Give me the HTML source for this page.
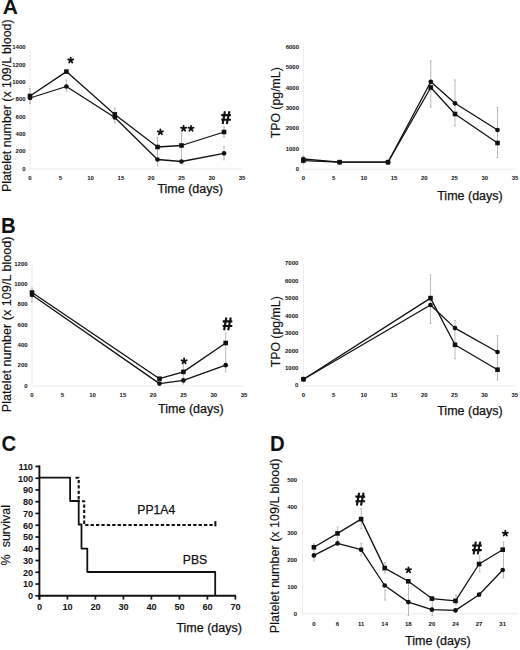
<!DOCTYPE html>
<html><head><meta charset="utf-8"><style>
html,body{margin:0;padding:0;background:#fff;width:520px;height:650px;overflow:hidden}
svg{display:block;font-family:"Liberation Sans", sans-serif}
</style></head><body>
<svg width="520" height="650" viewBox="0 0 520 650">
<rect width="520" height="650" fill="#fff"/>
<text transform="translate(2.70,14.40) scale(1.0,1)" font-size="21" font-weight="bold" fill="#111">A</text>
<text transform="translate(11.20,105.75) rotate(-90)" x="0" y="0" font-size="12.42" text-anchor="middle" fill="#111" stroke="#111" stroke-width="0.15">Platelet number (x 109/L blood)</text>
<line x1="30.00" y1="47.00" x2="30.00" y2="169.00" stroke="#ebebeb" stroke-width="1" />
<line x1="30.00" y1="169.00" x2="242.50" y2="169.00" stroke="#ebebeb" stroke-width="1" />
<text x="25.60" y="170.60" font-size="6.0" font-weight="bold" text-anchor="end" fill="#111" >0</text>
<text x="25.60" y="153.25" font-size="6.0" font-weight="bold" text-anchor="end" fill="#111" >200</text>
<text x="25.60" y="135.90" font-size="6.0" font-weight="bold" text-anchor="end" fill="#111" >400</text>
<text x="25.60" y="118.55" font-size="6.0" font-weight="bold" text-anchor="end" fill="#111" >600</text>
<text x="25.60" y="101.20" font-size="6.0" font-weight="bold" text-anchor="end" fill="#111" >800</text>
<text x="25.60" y="83.85" font-size="6.0" font-weight="bold" text-anchor="end" fill="#111" >1000</text>
<text x="25.60" y="66.50" font-size="6.0" font-weight="bold" text-anchor="end" fill="#111" >1200</text>
<text x="25.60" y="49.15" font-size="6.0" font-weight="bold" text-anchor="end" fill="#111" >1400</text>
<text x="30.00" y="180.00" font-size="6.0" font-weight="bold" text-anchor="middle" fill="#111" >0</text>
<text x="60.30" y="180.00" font-size="6.0" font-weight="bold" text-anchor="middle" fill="#111" >5</text>
<text x="90.60" y="180.00" font-size="6.0" font-weight="bold" text-anchor="middle" fill="#111" >10</text>
<text x="120.90" y="180.00" font-size="6.0" font-weight="bold" text-anchor="middle" fill="#111" >15</text>
<text x="151.20" y="180.00" font-size="6.0" font-weight="bold" text-anchor="middle" fill="#111" >20</text>
<text x="181.50" y="180.00" font-size="6.0" font-weight="bold" text-anchor="middle" fill="#111" >25</text>
<text x="211.80" y="180.00" font-size="6.0" font-weight="bold" text-anchor="middle" fill="#111" >30</text>
<text x="242.10" y="180.00" font-size="6.0" font-weight="bold" text-anchor="middle" fill="#111" >35</text>
<text x="157.40" y="193.20" font-size="12.5" font-weight="normal" text-anchor="start" fill="#111"  stroke="#111" stroke-width="0.25">Time (days)</text>
<line x1="30.00" y1="88.50" x2="30.00" y2="103.50" stroke="#bbb" stroke-width="1"/>
<line x1="29.00" y1="88.50" x2="31.00" y2="88.50" stroke="#bbb" stroke-width="1"/>
<line x1="29.00" y1="103.50" x2="31.00" y2="103.50" stroke="#bbb" stroke-width="1"/>
<line x1="66.40" y1="80.00" x2="66.40" y2="91.00" stroke="#bbb" stroke-width="1"/>
<line x1="65.40" y1="80.00" x2="67.40" y2="80.00" stroke="#bbb" stroke-width="1"/>
<line x1="65.40" y1="91.00" x2="67.40" y2="91.00" stroke="#bbb" stroke-width="1"/>
<line x1="114.80" y1="108.00" x2="114.80" y2="123.00" stroke="#bbb" stroke-width="1"/>
<line x1="113.80" y1="108.00" x2="115.80" y2="108.00" stroke="#bbb" stroke-width="1"/>
<line x1="113.80" y1="123.00" x2="115.80" y2="123.00" stroke="#bbb" stroke-width="1"/>
<line x1="157.50" y1="137.30" x2="157.50" y2="165.80" stroke="#bbb" stroke-width="1"/>
<line x1="156.50" y1="137.30" x2="158.50" y2="137.30" stroke="#bbb" stroke-width="1"/>
<line x1="156.50" y1="165.80" x2="158.50" y2="165.80" stroke="#bbb" stroke-width="1"/>
<line x1="181.50" y1="133.00" x2="181.50" y2="164.00" stroke="#bbb" stroke-width="1"/>
<line x1="180.50" y1="133.00" x2="182.50" y2="133.00" stroke="#bbb" stroke-width="1"/>
<line x1="180.50" y1="164.00" x2="182.50" y2="164.00" stroke="#bbb" stroke-width="1"/>
<line x1="224.00" y1="127.00" x2="224.00" y2="137.00" stroke="#bbb" stroke-width="1"/>
<line x1="223.00" y1="127.00" x2="225.00" y2="127.00" stroke="#bbb" stroke-width="1"/>
<line x1="223.00" y1="137.00" x2="225.00" y2="137.00" stroke="#bbb" stroke-width="1"/>
<line x1="224.00" y1="146.80" x2="224.00" y2="159.80" stroke="#bbb" stroke-width="1"/>
<line x1="223.00" y1="146.80" x2="225.00" y2="146.80" stroke="#bbb" stroke-width="1"/>
<line x1="223.00" y1="159.80" x2="225.00" y2="159.80" stroke="#bbb" stroke-width="1"/>
<polyline points="30.00,96.00 66.40,71.60 114.80,114.40 157.50,147.00 181.50,145.50 224.00,132.00" fill="none" stroke="#111" stroke-width="1.3" stroke-linejoin="round" />
<polyline points="30.00,98.00 66.40,86.50 114.80,117.50 157.50,159.50 181.50,161.50 224.00,153.30" fill="none" stroke="#111" stroke-width="1.3" stroke-linejoin="round" />
<rect x="27.70" y="93.70" width="4.6" height="4.6" fill="#111"/>
<rect x="64.10" y="69.30" width="4.6" height="4.6" fill="#111"/>
<rect x="112.50" y="112.10" width="4.6" height="4.6" fill="#111"/>
<rect x="155.20" y="144.70" width="4.6" height="4.6" fill="#111"/>
<rect x="179.20" y="143.20" width="4.6" height="4.6" fill="#111"/>
<rect x="221.70" y="129.70" width="4.6" height="4.6" fill="#111"/>
<circle cx="30.00" cy="98.00" r="2.35" fill="#111"/>
<circle cx="66.40" cy="86.50" r="2.35" fill="#111"/>
<circle cx="114.80" cy="117.50" r="2.35" fill="#111"/>
<circle cx="157.50" cy="159.50" r="2.35" fill="#111"/>
<circle cx="181.50" cy="161.50" r="2.35" fill="#111"/>
<circle cx="224.00" cy="153.30" r="2.35" fill="#111"/>
<path d="M70.70,60.30L70.70,57.60M70.70,60.30L73.27,59.47M70.70,60.30L72.29,62.48M70.70,60.30L69.11,62.48M70.70,60.30L68.13,59.47" stroke="#111" stroke-width="1.8" stroke-linecap="round" fill="none"/>
<path d="M160.40,132.10L160.40,129.40M160.40,132.10L162.97,131.27M160.40,132.10L161.99,134.28M160.40,132.10L158.81,134.28M160.40,132.10L157.83,131.27" stroke="#111" stroke-width="1.8" stroke-linecap="round" fill="none"/>
<path d="M183.60,128.50L183.60,125.80M183.60,128.50L186.17,127.67M183.60,128.50L185.19,130.68M183.60,128.50L182.01,130.68M183.60,128.50L181.03,127.67" stroke="#111" stroke-width="1.8" stroke-linecap="round" fill="none"/>
<path d="M191.00,128.50L191.00,125.80M191.00,128.50L193.57,127.67M191.00,128.50L192.59,130.68M191.00,128.50L189.41,130.68M191.00,128.50L188.43,127.67" stroke="#111" stroke-width="1.8" stroke-linecap="round" fill="none"/>
<path d="M224.90,111.25L222.70,124.00 M229.40,111.25L226.80,124.00 M221.25,115.10L230.90,115.10 M221.25,119.70L230.90,119.70" stroke="#111" stroke-width="2.1" fill="none"/>
<text transform="translate(280.20,102.80) rotate(-90)" x="0" y="0" font-size="12.3" text-anchor="middle" fill="#111" stroke="#111" stroke-width="0.15">TPO (pg/mL)</text>
<line x1="303.30" y1="47.00" x2="303.30" y2="169.20" stroke="#ebebeb" stroke-width="1" />
<line x1="303.30" y1="169.20" x2="515.00" y2="169.20" stroke="#ebebeb" stroke-width="1" />
<text x="299.00" y="170.80" font-size="6.0" font-weight="bold" text-anchor="end" fill="#111" >0</text>
<text x="299.00" y="150.50" font-size="6.0" font-weight="bold" text-anchor="end" fill="#111" >1000</text>
<text x="299.00" y="130.20" font-size="6.0" font-weight="bold" text-anchor="end" fill="#111" >2000</text>
<text x="299.00" y="109.90" font-size="6.0" font-weight="bold" text-anchor="end" fill="#111" >3000</text>
<text x="299.00" y="89.60" font-size="6.0" font-weight="bold" text-anchor="end" fill="#111" >4000</text>
<text x="299.00" y="69.30" font-size="6.0" font-weight="bold" text-anchor="end" fill="#111" >5000</text>
<text x="299.00" y="49.00" font-size="6.0" font-weight="bold" text-anchor="end" fill="#111" >6000</text>
<text x="303.30" y="180.00" font-size="6.0" font-weight="bold" text-anchor="middle" fill="#111" >0</text>
<text x="333.55" y="180.00" font-size="6.0" font-weight="bold" text-anchor="middle" fill="#111" >5</text>
<text x="363.80" y="180.00" font-size="6.0" font-weight="bold" text-anchor="middle" fill="#111" >10</text>
<text x="394.05" y="180.00" font-size="6.0" font-weight="bold" text-anchor="middle" fill="#111" >15</text>
<text x="424.30" y="180.00" font-size="6.0" font-weight="bold" text-anchor="middle" fill="#111" >20</text>
<text x="454.55" y="180.00" font-size="6.0" font-weight="bold" text-anchor="middle" fill="#111" >25</text>
<text x="484.80" y="180.00" font-size="6.0" font-weight="bold" text-anchor="middle" fill="#111" >30</text>
<text x="515.05" y="180.00" font-size="6.0" font-weight="bold" text-anchor="middle" fill="#111" >35</text>
<text x="437.20" y="200.40" font-size="12.5" font-weight="normal" text-anchor="start" fill="#111"  stroke="#111" stroke-width="0.25">Time (days)</text>
<line x1="430.80" y1="61.00" x2="430.80" y2="107.00" stroke="#bbb" stroke-width="1"/>
<line x1="429.80" y1="61.00" x2="431.80" y2="61.00" stroke="#bbb" stroke-width="1"/>
<line x1="429.80" y1="107.00" x2="431.80" y2="107.00" stroke="#bbb" stroke-width="1"/>
<line x1="455.00" y1="80.00" x2="455.00" y2="126.00" stroke="#bbb" stroke-width="1"/>
<line x1="454.00" y1="80.00" x2="456.00" y2="80.00" stroke="#bbb" stroke-width="1"/>
<line x1="454.00" y1="126.00" x2="456.00" y2="126.00" stroke="#bbb" stroke-width="1"/>
<line x1="497.50" y1="107.50" x2="497.50" y2="157.50" stroke="#bbb" stroke-width="1"/>
<line x1="496.50" y1="107.50" x2="498.50" y2="107.50" stroke="#bbb" stroke-width="1"/>
<line x1="496.50" y1="157.50" x2="498.50" y2="157.50" stroke="#bbb" stroke-width="1"/>
<line x1="303.30" y1="156.00" x2="303.30" y2="164.00" stroke="#bbb" stroke-width="1"/>
<line x1="302.30" y1="156.00" x2="304.30" y2="156.00" stroke="#bbb" stroke-width="1"/>
<line x1="302.30" y1="164.00" x2="304.30" y2="164.00" stroke="#bbb" stroke-width="1"/>
<polyline points="303.30,159.00 339.60,162.20 388.00,162.20 430.80,81.80 455.00,103.30 497.50,130.00" fill="none" stroke="#111" stroke-width="1.3" stroke-linejoin="round" />
<polyline points="303.30,160.60 339.60,162.20 388.00,162.20 430.80,87.50 455.00,114.00 497.50,143.00" fill="none" stroke="#111" stroke-width="1.3" stroke-linejoin="round" />
<rect x="301.00" y="158.30" width="4.6" height="4.6" fill="#111"/>
<rect x="337.30" y="159.90" width="4.6" height="4.6" fill="#111"/>
<rect x="385.70" y="159.90" width="4.6" height="4.6" fill="#111"/>
<rect x="428.50" y="85.20" width="4.6" height="4.6" fill="#111"/>
<rect x="452.70" y="111.70" width="4.6" height="4.6" fill="#111"/>
<rect x="495.20" y="140.70" width="4.6" height="4.6" fill="#111"/>
<circle cx="303.30" cy="159.00" r="2.35" fill="#111"/>
<circle cx="339.60" cy="162.20" r="2.35" fill="#111"/>
<circle cx="388.00" cy="162.20" r="2.35" fill="#111"/>
<circle cx="430.80" cy="81.80" r="2.35" fill="#111"/>
<circle cx="455.00" cy="103.30" r="2.35" fill="#111"/>
<circle cx="497.50" cy="130.00" r="2.35" fill="#111"/>
<text transform="translate(0.90,232.70) scale(0.95,1)" font-size="21.4" font-weight="bold" fill="#111">B</text>
<text transform="translate(11.40,324.30) rotate(-90)" x="0" y="0" font-size="12.64" text-anchor="middle" fill="#111" stroke="#111" stroke-width="0.15">Platelet number (x 109/L blood)</text>
<line x1="32.00" y1="264.00" x2="32.00" y2="386.00" stroke="#ebebeb" stroke-width="1" />
<line x1="32.00" y1="386.00" x2="244.00" y2="386.00" stroke="#ebebeb" stroke-width="1" />
<text x="27.60" y="387.60" font-size="6.0" font-weight="bold" text-anchor="end" fill="#111" >0</text>
<text x="27.60" y="367.30" font-size="6.0" font-weight="bold" text-anchor="end" fill="#111" >200</text>
<text x="27.60" y="347.00" font-size="6.0" font-weight="bold" text-anchor="end" fill="#111" >400</text>
<text x="27.60" y="326.70" font-size="6.0" font-weight="bold" text-anchor="end" fill="#111" >600</text>
<text x="27.60" y="306.40" font-size="6.0" font-weight="bold" text-anchor="end" fill="#111" >800</text>
<text x="27.60" y="286.10" font-size="6.0" font-weight="bold" text-anchor="end" fill="#111" >1000</text>
<text x="27.60" y="265.80" font-size="6.0" font-weight="bold" text-anchor="end" fill="#111" >1200</text>
<text x="32.00" y="396.60" font-size="6.0" font-weight="bold" text-anchor="middle" fill="#111" >0</text>
<text x="62.30" y="396.60" font-size="6.0" font-weight="bold" text-anchor="middle" fill="#111" >5</text>
<text x="92.60" y="396.60" font-size="6.0" font-weight="bold" text-anchor="middle" fill="#111" >10</text>
<text x="122.90" y="396.60" font-size="6.0" font-weight="bold" text-anchor="middle" fill="#111" >15</text>
<text x="153.20" y="396.60" font-size="6.0" font-weight="bold" text-anchor="middle" fill="#111" >20</text>
<text x="183.50" y="396.60" font-size="6.0" font-weight="bold" text-anchor="middle" fill="#111" >25</text>
<text x="213.80" y="396.60" font-size="6.0" font-weight="bold" text-anchor="middle" fill="#111" >30</text>
<text x="244.10" y="396.60" font-size="6.0" font-weight="bold" text-anchor="middle" fill="#111" >35</text>
<text x="158.10" y="412.80" font-size="12.5" font-weight="normal" text-anchor="start" fill="#111"  stroke="#111" stroke-width="0.25">Time (days)</text>
<line x1="32.00" y1="288.00" x2="32.00" y2="302.00" stroke="#bbb" stroke-width="1"/>
<line x1="31.00" y1="288.00" x2="33.00" y2="288.00" stroke="#bbb" stroke-width="1"/>
<line x1="31.00" y1="302.00" x2="33.00" y2="302.00" stroke="#bbb" stroke-width="1"/>
<line x1="183.40" y1="364.00" x2="183.40" y2="384.00" stroke="#bbb" stroke-width="1"/>
<line x1="182.40" y1="364.00" x2="184.40" y2="364.00" stroke="#bbb" stroke-width="1"/>
<line x1="182.40" y1="384.00" x2="184.40" y2="384.00" stroke="#bbb" stroke-width="1"/>
<line x1="225.70" y1="333.00" x2="225.70" y2="372.00" stroke="#bbb" stroke-width="1"/>
<line x1="224.70" y1="333.00" x2="226.70" y2="333.00" stroke="#bbb" stroke-width="1"/>
<line x1="224.70" y1="372.00" x2="226.70" y2="372.00" stroke="#bbb" stroke-width="1"/>
<polyline points="32.00,292.50 159.50,378.70 183.40,371.90 225.70,343.00" fill="none" stroke="#111" stroke-width="1.3" stroke-linejoin="round" />
<polyline points="32.00,295.00 159.50,383.60 183.40,380.40 225.70,365.20" fill="none" stroke="#111" stroke-width="1.3" stroke-linejoin="round" />
<rect x="29.70" y="290.20" width="4.6" height="4.6" fill="#111"/>
<rect x="157.20" y="376.40" width="4.6" height="4.6" fill="#111"/>
<rect x="181.10" y="369.60" width="4.6" height="4.6" fill="#111"/>
<rect x="223.40" y="340.70" width="4.6" height="4.6" fill="#111"/>
<circle cx="32.00" cy="295.00" r="2.35" fill="#111"/>
<circle cx="159.50" cy="383.60" r="2.35" fill="#111"/>
<circle cx="183.40" cy="380.40" r="2.35" fill="#111"/>
<circle cx="225.70" cy="365.20" r="2.35" fill="#111"/>
<path d="M184.10,361.10L184.10,358.40M184.10,361.10L186.67,360.27M184.10,361.10L185.69,363.28M184.10,361.10L182.51,363.28M184.10,361.10L181.53,360.27" stroke="#111" stroke-width="1.8" stroke-linecap="round" fill="none"/>
<path d="M226.30,317.55L224.10,330.30 M230.80,317.55L228.20,330.30 M222.65,321.40L232.30,321.40 M222.65,326.00L232.30,326.00" stroke="#111" stroke-width="2.1" fill="none"/>
<text transform="translate(280.20,331.80) rotate(-90)" x="0" y="0" font-size="12.3" text-anchor="middle" fill="#111" stroke="#111" stroke-width="0.15">TPO (pg/mL)</text>
<line x1="303.50" y1="263.80" x2="303.50" y2="385.80" stroke="#ebebeb" stroke-width="1" />
<line x1="303.50" y1="385.80" x2="515.00" y2="385.80" stroke="#ebebeb" stroke-width="1" />
<text x="298.40" y="387.40" font-size="6.0" font-weight="bold" text-anchor="end" fill="#111" >0</text>
<text x="298.40" y="369.97" font-size="6.0" font-weight="bold" text-anchor="end" fill="#111" >1000</text>
<text x="298.40" y="352.54" font-size="6.0" font-weight="bold" text-anchor="end" fill="#111" >2000</text>
<text x="298.40" y="335.11" font-size="6.0" font-weight="bold" text-anchor="end" fill="#111" >3000</text>
<text x="298.40" y="317.68" font-size="6.0" font-weight="bold" text-anchor="end" fill="#111" >4000</text>
<text x="298.40" y="300.25" font-size="6.0" font-weight="bold" text-anchor="end" fill="#111" >5000</text>
<text x="298.40" y="282.82" font-size="6.0" font-weight="bold" text-anchor="end" fill="#111" >6000</text>
<text x="298.40" y="265.39" font-size="6.0" font-weight="bold" text-anchor="end" fill="#111" >7000</text>
<text x="303.50" y="396.60" font-size="6.0" font-weight="bold" text-anchor="middle" fill="#111" >0</text>
<text x="333.69" y="396.60" font-size="6.0" font-weight="bold" text-anchor="middle" fill="#111" >5</text>
<text x="363.87" y="396.60" font-size="6.0" font-weight="bold" text-anchor="middle" fill="#111" >10</text>
<text x="394.06" y="396.60" font-size="6.0" font-weight="bold" text-anchor="middle" fill="#111" >15</text>
<text x="424.24" y="396.60" font-size="6.0" font-weight="bold" text-anchor="middle" fill="#111" >20</text>
<text x="454.43" y="396.60" font-size="6.0" font-weight="bold" text-anchor="middle" fill="#111" >25</text>
<text x="484.61" y="396.60" font-size="6.0" font-weight="bold" text-anchor="middle" fill="#111" >30</text>
<text x="514.79" y="396.60" font-size="6.0" font-weight="bold" text-anchor="middle" fill="#111" >35</text>
<text x="437.20" y="415.00" font-size="12.5" font-weight="normal" text-anchor="start" fill="#111"  stroke="#111" stroke-width="0.25">Time (days)</text>
<line x1="430.50" y1="275.00" x2="430.50" y2="323.50" stroke="#bbb" stroke-width="1"/>
<line x1="429.50" y1="275.00" x2="431.50" y2="275.00" stroke="#bbb" stroke-width="1"/>
<line x1="429.50" y1="323.50" x2="431.50" y2="323.50" stroke="#bbb" stroke-width="1"/>
<line x1="455.00" y1="320.50" x2="455.00" y2="358.80" stroke="#bbb" stroke-width="1"/>
<line x1="454.00" y1="320.50" x2="456.00" y2="320.50" stroke="#bbb" stroke-width="1"/>
<line x1="454.00" y1="358.80" x2="456.00" y2="358.80" stroke="#bbb" stroke-width="1"/>
<line x1="497.50" y1="335.70" x2="497.50" y2="380.00" stroke="#bbb" stroke-width="1"/>
<line x1="496.50" y1="335.70" x2="498.50" y2="335.70" stroke="#bbb" stroke-width="1"/>
<line x1="496.50" y1="380.00" x2="498.50" y2="380.00" stroke="#bbb" stroke-width="1"/>
<polyline points="303.50,379.20 430.50,305.00 455.00,328.10 497.50,352.00" fill="none" stroke="#111" stroke-width="1.3" stroke-linejoin="round" />
<polyline points="303.50,379.20 430.50,298.10 455.00,344.80 497.50,369.70" fill="none" stroke="#111" stroke-width="1.3" stroke-linejoin="round" />
<rect x="301.20" y="376.90" width="4.6" height="4.6" fill="#111"/>
<rect x="428.20" y="295.80" width="4.6" height="4.6" fill="#111"/>
<rect x="452.70" y="342.50" width="4.6" height="4.6" fill="#111"/>
<rect x="495.20" y="367.40" width="4.6" height="4.6" fill="#111"/>
<circle cx="303.50" cy="379.20" r="2.35" fill="#111"/>
<circle cx="430.50" cy="305.00" r="2.35" fill="#111"/>
<circle cx="455.00" cy="328.10" r="2.35" fill="#111"/>
<circle cx="497.50" cy="352.00" r="2.35" fill="#111"/>
<text transform="translate(1.40,451.30) scale(0.95,1)" font-size="21.4" font-weight="bold" fill="#111">C</text>
<line x1="39.40" y1="465.40" x2="39.40" y2="599.60" stroke="#111" stroke-width="1.9" />
<line x1="38.50" y1="595.80" x2="236.00" y2="595.80" stroke="#111" stroke-width="1.9" />
<line x1="35.40" y1="595.80" x2="39.40" y2="595.80" stroke="#111" stroke-width="1.7" />
<text x="32.80" y="599.10" font-size="9.2" font-weight="bold" text-anchor="end" fill="#111" letter-spacing="-0.2">0</text>
<line x1="35.40" y1="584.04" x2="39.40" y2="584.04" stroke="#111" stroke-width="1.7" />
<text x="32.80" y="587.34" font-size="9.2" font-weight="bold" text-anchor="end" fill="#111" letter-spacing="-0.2">10</text>
<line x1="35.40" y1="572.28" x2="39.40" y2="572.28" stroke="#111" stroke-width="1.7" />
<text x="32.80" y="575.58" font-size="9.2" font-weight="bold" text-anchor="end" fill="#111" letter-spacing="-0.2">20</text>
<line x1="35.40" y1="560.52" x2="39.40" y2="560.52" stroke="#111" stroke-width="1.7" />
<text x="32.80" y="563.82" font-size="9.2" font-weight="bold" text-anchor="end" fill="#111" letter-spacing="-0.2">30</text>
<line x1="35.40" y1="548.76" x2="39.40" y2="548.76" stroke="#111" stroke-width="1.7" />
<text x="32.80" y="552.06" font-size="9.2" font-weight="bold" text-anchor="end" fill="#111" letter-spacing="-0.2">40</text>
<line x1="35.40" y1="537.00" x2="39.40" y2="537.00" stroke="#111" stroke-width="1.7" />
<text x="32.80" y="540.30" font-size="9.2" font-weight="bold" text-anchor="end" fill="#111" letter-spacing="-0.2">50</text>
<line x1="35.40" y1="525.24" x2="39.40" y2="525.24" stroke="#111" stroke-width="1.7" />
<text x="32.80" y="528.54" font-size="9.2" font-weight="bold" text-anchor="end" fill="#111" letter-spacing="-0.2">60</text>
<line x1="35.40" y1="513.48" x2="39.40" y2="513.48" stroke="#111" stroke-width="1.7" />
<text x="32.80" y="516.78" font-size="9.2" font-weight="bold" text-anchor="end" fill="#111" letter-spacing="-0.2">70</text>
<line x1="35.40" y1="501.72" x2="39.40" y2="501.72" stroke="#111" stroke-width="1.7" />
<text x="32.80" y="505.02" font-size="9.2" font-weight="bold" text-anchor="end" fill="#111" letter-spacing="-0.2">80</text>
<line x1="35.40" y1="489.96" x2="39.40" y2="489.96" stroke="#111" stroke-width="1.7" />
<text x="32.80" y="493.26" font-size="9.2" font-weight="bold" text-anchor="end" fill="#111" letter-spacing="-0.2">90</text>
<line x1="35.40" y1="478.20" x2="39.40" y2="478.20" stroke="#111" stroke-width="1.7" />
<text x="32.80" y="481.50" font-size="9.2" font-weight="bold" text-anchor="end" fill="#111" letter-spacing="-0.2">100</text>
<line x1="35.40" y1="466.44" x2="39.40" y2="466.44" stroke="#111" stroke-width="1.7" />
<text x="32.80" y="469.74" font-size="9.2" font-weight="bold" text-anchor="end" fill="#111" letter-spacing="-0.2">110</text>
<line x1="39.40" y1="595.80" x2="39.40" y2="599.60" stroke="#111" stroke-width="1.7" />
<text x="39.40" y="609.60" font-size="9.2" font-weight="bold" text-anchor="middle" fill="#111" letter-spacing="-0.2">0</text>
<line x1="67.40" y1="595.80" x2="67.40" y2="599.60" stroke="#111" stroke-width="1.7" />
<text x="67.40" y="609.60" font-size="9.2" font-weight="bold" text-anchor="middle" fill="#111" letter-spacing="-0.2">10</text>
<line x1="95.40" y1="595.80" x2="95.40" y2="599.60" stroke="#111" stroke-width="1.7" />
<text x="95.40" y="609.60" font-size="9.2" font-weight="bold" text-anchor="middle" fill="#111" letter-spacing="-0.2">20</text>
<line x1="123.40" y1="595.80" x2="123.40" y2="599.60" stroke="#111" stroke-width="1.7" />
<text x="123.40" y="609.60" font-size="9.2" font-weight="bold" text-anchor="middle" fill="#111" letter-spacing="-0.2">30</text>
<line x1="151.40" y1="595.80" x2="151.40" y2="599.60" stroke="#111" stroke-width="1.7" />
<text x="151.40" y="609.60" font-size="9.2" font-weight="bold" text-anchor="middle" fill="#111" letter-spacing="-0.2">40</text>
<line x1="179.40" y1="595.80" x2="179.40" y2="599.60" stroke="#111" stroke-width="1.7" />
<text x="179.40" y="609.60" font-size="9.2" font-weight="bold" text-anchor="middle" fill="#111" letter-spacing="-0.2">50</text>
<line x1="207.40" y1="595.80" x2="207.40" y2="599.60" stroke="#111" stroke-width="1.7" />
<text x="207.40" y="609.60" font-size="9.2" font-weight="bold" text-anchor="middle" fill="#111" letter-spacing="-0.2">60</text>
<line x1="235.40" y1="595.80" x2="235.40" y2="599.60" stroke="#111" stroke-width="1.7" />
<text x="235.40" y="609.60" font-size="9.2" font-weight="bold" text-anchor="middle" fill="#111" letter-spacing="-0.2">70</text>
<text transform="translate(9.90,535.20) rotate(-90)" x="0" y="0" font-size="12.5" text-anchor="middle" fill="#111" stroke="#111" stroke-width="0.15">%&#160; survival</text>
<text x="176.40" y="631.60" font-size="12.5" font-weight="normal" text-anchor="start" fill="#111"  stroke="#111" stroke-width="0.25">Time (days)</text>
<polyline points="39.40,477.70 70.10,477.70 70.10,501.00 78.70,501.00 78.70,524.50 81.50,524.50 81.50,548.60 87.30,548.60 87.30,572.00 215.20,572.00 215.20,595.80" fill="none" stroke="#111" stroke-width="1.8" stroke-linejoin="round" stroke-linejoin="miter"/>
<polyline points="75.50,477.70 78.70,477.70 78.70,501.20" fill="none" stroke="#111" stroke-width="2.1" stroke-linejoin="round" stroke-dasharray="3.3,2.1"/>
<polyline points="78.70,501.20 84.20,501.20 84.20,525.00 214.20,525.00" fill="none" stroke="#111" stroke-width="2.1" stroke-linejoin="round" stroke-dasharray="3.3,2.1" stroke-dashoffset="2.1"/>
<line x1="215.40" y1="521.00" x2="215.40" y2="526.40" stroke="#111" stroke-width="2.0" />
<text x="137.30" y="514.20" font-size="12.2" font-weight="normal" text-anchor="start" fill="#111"  stroke="#111" stroke-width="0.25">PP1A4</text>
<text x="182.80" y="564.40" font-size="12.2" font-weight="normal" text-anchor="start" fill="#111"  stroke="#111" stroke-width="0.25">PBS</text>
<text transform="translate(270.10,450.60) scale(0.95,1)" font-size="21.4" font-weight="bold" fill="#111">D</text>
<text transform="translate(279.20,545.90) rotate(-90)" x="0" y="0" font-size="12.55" text-anchor="middle" fill="#111" stroke="#111" stroke-width="0.15">Platelet number (x 109/L blood)</text>
<line x1="302.50" y1="480.00" x2="302.50" y2="613.80" stroke="#ebebeb" stroke-width="1" />
<line x1="302.50" y1="613.80" x2="518.00" y2="613.80" stroke="#ebebeb" stroke-width="1" />
<text x="297.20" y="615.60" font-size="6.0" font-weight="bold" text-anchor="end" fill="#111" >0</text>
<text x="297.20" y="588.85" font-size="6.0" font-weight="bold" text-anchor="end" fill="#111" >100</text>
<text x="297.20" y="562.10" font-size="6.0" font-weight="bold" text-anchor="end" fill="#111" >200</text>
<text x="297.20" y="535.35" font-size="6.0" font-weight="bold" text-anchor="end" fill="#111" >300</text>
<text x="297.20" y="508.60" font-size="6.0" font-weight="bold" text-anchor="end" fill="#111" >400</text>
<text x="297.20" y="481.85" font-size="6.0" font-weight="bold" text-anchor="end" fill="#111" >500</text>
<text x="313.90" y="625.80" font-size="6.0" font-weight="bold" text-anchor="middle" fill="#111" >0</text>
<text x="337.50" y="625.80" font-size="6.0" font-weight="bold" text-anchor="middle" fill="#111" >6</text>
<text x="361.10" y="625.80" font-size="6.0" font-weight="bold" text-anchor="middle" fill="#111" >11</text>
<text x="384.70" y="625.80" font-size="6.0" font-weight="bold" text-anchor="middle" fill="#111" >14</text>
<text x="408.30" y="625.80" font-size="6.0" font-weight="bold" text-anchor="middle" fill="#111" >18</text>
<text x="431.90" y="625.80" font-size="6.0" font-weight="bold" text-anchor="middle" fill="#111" >20</text>
<text x="455.50" y="625.80" font-size="6.0" font-weight="bold" text-anchor="middle" fill="#111" >24</text>
<text x="479.10" y="625.80" font-size="6.0" font-weight="bold" text-anchor="middle" fill="#111" >27</text>
<text x="502.70" y="625.80" font-size="6.0" font-weight="bold" text-anchor="middle" fill="#111" >31</text>
<text x="405.10" y="645.20" font-size="12.5" font-weight="normal" text-anchor="start" fill="#111"  stroke="#111" stroke-width="0.25">Time (days)</text>
<line x1="313.90" y1="544.00" x2="313.90" y2="561.00" stroke="#bbb" stroke-width="1"/>
<line x1="312.90" y1="544.00" x2="314.90" y2="544.00" stroke="#bbb" stroke-width="1"/>
<line x1="312.90" y1="561.00" x2="314.90" y2="561.00" stroke="#bbb" stroke-width="1"/>
<line x1="337.60" y1="527.00" x2="337.60" y2="540.40" stroke="#bbb" stroke-width="1"/>
<line x1="336.60" y1="527.00" x2="338.60" y2="527.00" stroke="#bbb" stroke-width="1"/>
<line x1="336.60" y1="540.40" x2="338.60" y2="540.40" stroke="#bbb" stroke-width="1"/>
<line x1="361.20" y1="508.70" x2="361.20" y2="529.00" stroke="#bbb" stroke-width="1"/>
<line x1="360.20" y1="508.70" x2="362.20" y2="508.70" stroke="#bbb" stroke-width="1"/>
<line x1="360.20" y1="529.00" x2="362.20" y2="529.00" stroke="#bbb" stroke-width="1"/>
<line x1="361.20" y1="543.30" x2="361.20" y2="555.80" stroke="#bbb" stroke-width="1"/>
<line x1="360.20" y1="543.30" x2="362.20" y2="543.30" stroke="#bbb" stroke-width="1"/>
<line x1="360.20" y1="555.80" x2="362.20" y2="555.80" stroke="#bbb" stroke-width="1"/>
<line x1="385.00" y1="562.50" x2="385.00" y2="573.00" stroke="#bbb" stroke-width="1"/>
<line x1="384.00" y1="562.50" x2="386.00" y2="562.50" stroke="#bbb" stroke-width="1"/>
<line x1="384.00" y1="573.00" x2="386.00" y2="573.00" stroke="#bbb" stroke-width="1"/>
<line x1="385.00" y1="590.00" x2="385.00" y2="600.00" stroke="#bbb" stroke-width="1"/>
<line x1="384.00" y1="590.00" x2="386.00" y2="590.00" stroke="#bbb" stroke-width="1"/>
<line x1="384.00" y1="600.00" x2="386.00" y2="600.00" stroke="#bbb" stroke-width="1"/>
<line x1="408.50" y1="581.00" x2="408.50" y2="615.50" stroke="#bbb" stroke-width="1"/>
<line x1="407.50" y1="581.00" x2="409.50" y2="581.00" stroke="#bbb" stroke-width="1"/>
<line x1="407.50" y1="615.50" x2="409.50" y2="615.50" stroke="#bbb" stroke-width="1"/>
<line x1="432.30" y1="598.00" x2="432.30" y2="615.50" stroke="#bbb" stroke-width="1"/>
<line x1="431.30" y1="598.00" x2="433.30" y2="598.00" stroke="#bbb" stroke-width="1"/>
<line x1="431.30" y1="615.50" x2="433.30" y2="615.50" stroke="#bbb" stroke-width="1"/>
<line x1="456.10" y1="595.00" x2="456.10" y2="605.00" stroke="#bbb" stroke-width="1"/>
<line x1="455.10" y1="595.00" x2="457.10" y2="595.00" stroke="#bbb" stroke-width="1"/>
<line x1="455.10" y1="605.00" x2="457.10" y2="605.00" stroke="#bbb" stroke-width="1"/>
<line x1="479.70" y1="555.80" x2="479.70" y2="572.00" stroke="#bbb" stroke-width="1"/>
<line x1="478.70" y1="555.80" x2="480.70" y2="555.80" stroke="#bbb" stroke-width="1"/>
<line x1="478.70" y1="572.00" x2="480.70" y2="572.00" stroke="#bbb" stroke-width="1"/>
<line x1="503.50" y1="542.00" x2="503.50" y2="578.00" stroke="#bbb" stroke-width="1"/>
<line x1="502.50" y1="542.00" x2="504.50" y2="542.00" stroke="#bbb" stroke-width="1"/>
<line x1="502.50" y1="578.00" x2="504.50" y2="578.00" stroke="#bbb" stroke-width="1"/>
<polyline points="313.90,547.30 337.50,533.40 361.10,519.10 384.70,568.10 408.30,581.30 431.90,598.60 455.50,600.90 479.10,564.00 502.70,549.70" fill="none" stroke="#111" stroke-width="1.3" stroke-linejoin="round" />
<polyline points="313.90,555.40 337.50,543.40 361.10,549.70 384.70,585.50 408.30,602.10 431.90,609.70 455.50,610.40 479.10,594.70 502.70,570.00" fill="none" stroke="#111" stroke-width="1.3" stroke-linejoin="round" />
<rect x="311.60" y="545.00" width="4.6" height="4.6" fill="#111"/>
<rect x="335.20" y="531.10" width="4.6" height="4.6" fill="#111"/>
<rect x="358.80" y="516.80" width="4.6" height="4.6" fill="#111"/>
<rect x="382.40" y="565.80" width="4.6" height="4.6" fill="#111"/>
<rect x="406.00" y="579.00" width="4.6" height="4.6" fill="#111"/>
<rect x="429.60" y="596.30" width="4.6" height="4.6" fill="#111"/>
<rect x="453.20" y="598.60" width="4.6" height="4.6" fill="#111"/>
<rect x="476.80" y="561.70" width="4.6" height="4.6" fill="#111"/>
<rect x="500.40" y="547.40" width="4.6" height="4.6" fill="#111"/>
<circle cx="313.90" cy="555.40" r="2.35" fill="#111"/>
<circle cx="337.50" cy="543.40" r="2.35" fill="#111"/>
<circle cx="361.10" cy="549.70" r="2.35" fill="#111"/>
<circle cx="384.70" cy="585.50" r="2.35" fill="#111"/>
<circle cx="408.30" cy="602.10" r="2.35" fill="#111"/>
<circle cx="431.90" cy="609.70" r="2.35" fill="#111"/>
<circle cx="455.50" cy="610.40" r="2.35" fill="#111"/>
<circle cx="479.10" cy="594.70" r="2.35" fill="#111"/>
<circle cx="502.70" cy="570.00" r="2.35" fill="#111"/>
<path d="M359.10,492.75L356.90,505.50 M363.60,492.75L361.00,505.50 M355.45,496.60L365.10,496.60 M355.45,501.20L365.10,501.20" stroke="#111" stroke-width="2.1" fill="none"/>
<path d="M408.50,570.00L408.50,567.30M408.50,570.00L411.07,569.17M408.50,570.00L410.09,572.18M408.50,570.00L406.91,572.18M408.50,570.00L405.93,569.17" stroke="#111" stroke-width="1.8" stroke-linecap="round" fill="none"/>
<path d="M475.80,541.65L473.60,554.40 M480.30,541.65L477.70,554.40 M472.15,545.50L481.80,545.50 M472.15,550.10L481.80,550.10" stroke="#111" stroke-width="2.1" fill="none"/>
<path d="M505.30,533.40L505.30,530.70M505.30,533.40L507.87,532.57M505.30,533.40L506.89,535.58M505.30,533.40L503.71,535.58M505.30,533.40L502.73,532.57" stroke="#111" stroke-width="1.8" stroke-linecap="round" fill="none"/>
</svg>
</body></html>
